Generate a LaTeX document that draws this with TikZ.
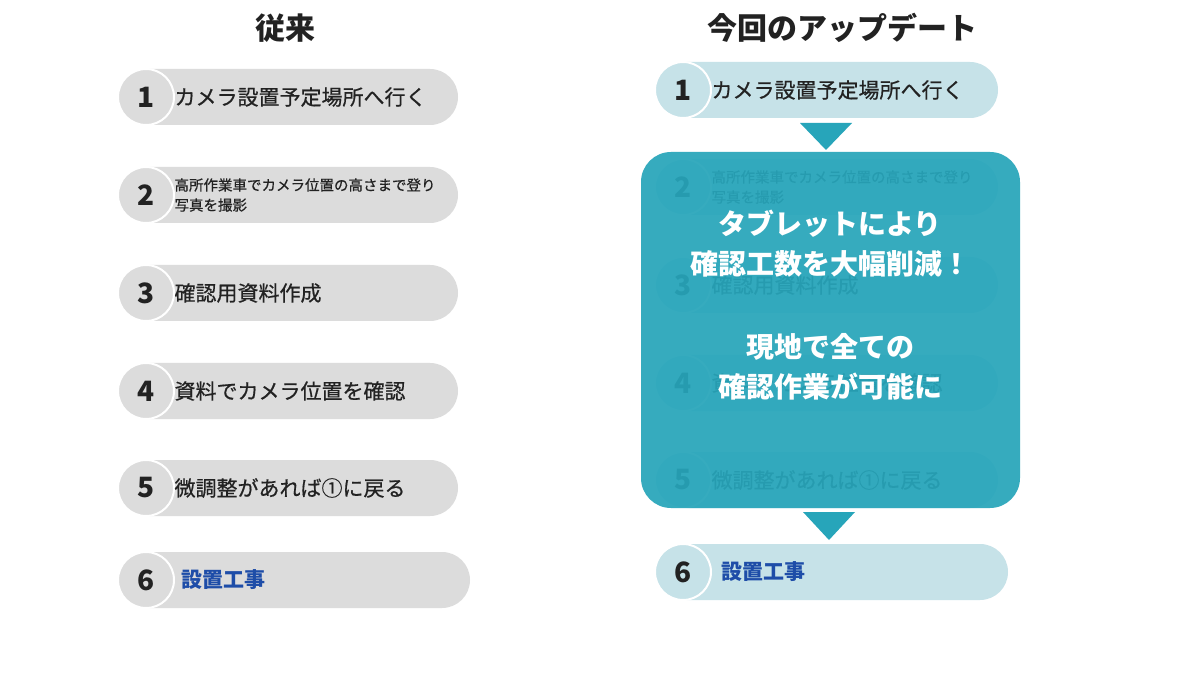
\documentclass[tikz,border=0pt]{standalone}
\usepackage{fontspec}
\newfontfamily\jp{Noto Sans CJK JP}
\newfontfamily\jpm{Noto Sans CJK JP}[FakeBold=0.6]
\definecolor{lg}{HTML}{DCDCDC}
\definecolor{lb}{HTML}{C6E2E8}
\definecolor{tl}{HTML}{27A5BA}
\definecolor{tx}{HTML}{222222}
\definecolor{bl}{HTML}{1E4DA8}
\tikzset{x=1pt,y=-1pt,
 num/.style={font=\jp\bfseries\fontsize{28}{28}\selectfont,text=tx},
 lab/.style={font=\jpm\fontsize{21}{24}\selectfont,text=tx,anchor=west,align=left},
 small/.style={font=\jpm\fontsize{14.5}{20}\selectfont,text=tx,anchor=west,align=left},
 ttl/.style={font=\jp\bfseries\fontsize{30}{30}\selectfont,text=tx},
 blu/.style={font=\jp\bfseries\fontsize{21}{24}\selectfont,text=bl,anchor=west},
 big/.style={font=\jp\bfseries\fontsize{28}{30}\selectfont,text=white}}
\newcommand\mypill[5]{% x1 x2 y color num
 \fill[#4,rounded corners=28pt] (#1,#3-28) rectangle (#2,#3+28);
 \draw[white,line width=2pt,fill=#4] (#1+28,#3) circle[radius=28];
 \node[num] at (#1+28,#3) {#5};}
\begin{document}
\begin{tikzpicture}
\useasboundingbox[fill=white] (0,0) rectangle (1200,676);
\node[ttl] (t1) at (285,28) {従来};
\node[ttl] (t2) at (842,28) {今回のアップデート};
% left
\mypill{118}{458}{97}{lg}{1}
\node[lab] (l1) at (171,97) {カメラ設置予定場所へ行く};
\mypill{118}{458}{195}{lg}{2}
\node[small] (l2) at (171,195) {高所作業車でカメラ位置の高さまで登り\\写真を撮影};
\mypill{118}{458}{293}{lg}{3}
\node[lab] (l3) at (171,293) {確認用資料作成};
\mypill{118}{458}{391}{lg}{4}
\node[lab] (l4) at (171,391) {資料でカメラ位置を確認};
\mypill{118}{458}{488}{lg}{5}
\node[lab] (l5) at (171,488) {微調整があれば①に戻る};
\mypill{118}{470}{580}{lg}{6}
\node[blu] (l6) at (178,580) {設置工事};
% right
\mypill{655}{998}{90}{lb}{1}
\node[lab] (r1) at (708,90) {カメラ設置予定場所へ行く};
\mypill{655}{998}{187}{lb}{2}
\node[small] (r2) at (708,187) {高所作業車でカメラ位置の高さまで登り\\写真を撮影};
\mypill{655}{998}{285}{lb}{3}
\node[lab] (r3) at (708,285) {確認用資料作成};
\mypill{655}{998}{383}{lb}{4}
\node[lab] (r4) at (708,383) {資料でカメラ位置を確認};
\mypill{655}{998}{480}{lb}{5}
\node[lab] (r5) at (708,480) {微調整があれば①に戻る};
\fill[tl,opacity=0.93,rounded corners=30pt] (641,152) rectangle (1020,508);
\mypill{655}{1008}{572}{lb}{6}
\node[blu] (r6) at (718,572) {設置工事};
\fill[tl] (800,123) -- (852,123) -- (826,150) -- cycle;
\fill[tl] (803,512) -- (855,512) -- (829,540) -- cycle;
\node[big] (b1) at (830,224) {タブレットにより};
\node[big] (b2) at (830,264) {確認工数を大幅削減！};
\node[big] (b3) at (830,347) {現地で全ての};
\node[big] (b4) at (830,387) {確認作業が可能に};
\end{tikzpicture}
\end{document}
